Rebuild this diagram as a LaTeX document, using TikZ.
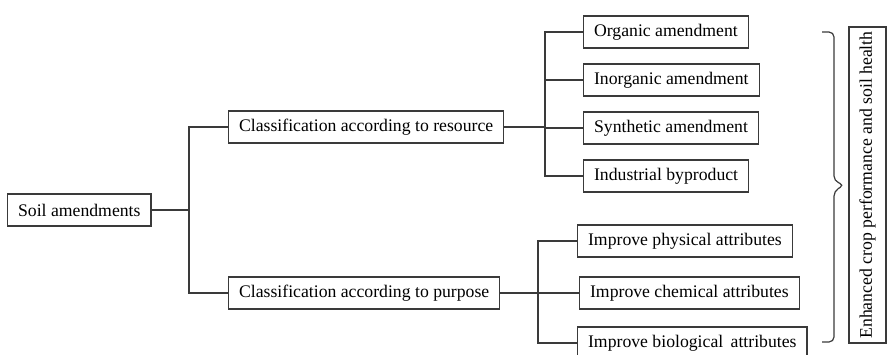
\documentclass[tikz,border=0pt]{standalone}
\usepackage{fontspec}
\setmainfont{Liberation Serif}
\usepackage{tikz}
\usetikzlibrary{positioning,calc}
\definecolor{lineGray}{HTML}{3A3A3A}
\tikzset{
  box/.style={
    rectangle, draw=lineGray, line width=1.2pt,
    inner xsep=10.5pt, inner ysep=0pt,
    minimum height=32pt, anchor=west
  },
  link/.style={draw=lineGray, line width=1.2pt},
  outbox/.style={
    box, anchor=center, rotate=90,
    minimum width=316pt, minimum height=37pt, inner xsep=2pt
  },
  bracket/.style={link, rounded corners=5pt}
}

\begin{document}
\begin{tikzpicture}[x=1pt,y=-1pt,font=\fontsize{17.7}{20}\selectfont]
  \useasboundingbox (0,0) rectangle (887,354);
  \clip (0,0) rectangle (887,354);

  % root and the two classifications
  \node[box] (soil) at (7,210) {Soil amendments};
  \node[box] (res) at (228,127) {Classification according to resource};
  \node[box] (pur) at (228,293) {Classification according to purpose};

  % by resource
  \node[box] (org)   at (583,32)  {Organic amendment};
  \node[box] (inorg) at (583,80)  {Inorganic amendment};
  \node[box] (syn)   at (583,128) {Synthetic amendment};
  \node[box] (ind)   at (583,176) {Industrial byproduct};

  % by purpose
  \node[box] (phy)  at (577,241) {Improve physical attributes};
  \node[box] (chem) at (579,293) {Improve chemical attributes};
  \node[box] (bio)  at (577,343) {Improve biological\, attributes};

  % outcome
  \node[outbox] (out) at (867.5,185) {Enhanced crop performance and soil health};

  % bus points
  \coordinate (busA) at (189,210);
  \coordinate (busR) at (545,127);
  \coordinate (busP) at (538,293);

  \draw[link] (soil.east) -- (busA);
  \draw[link] (busA) |- (res.west);
  \draw[link] (busA) |- (pur.west);

  \draw[link] (res.east) -- (busR);
  \foreach \n in {org,inorg,syn,ind}
    \draw[link] (busR) |- (\n.west);

  \draw[link] (pur.east) -- (busP);
  \foreach \n in {phy,chem,bio}
    \draw[link] (busP) |- (\n.west);

  % brace
  \coordinate (bTop) at (822,32);
  \coordinate (bBot) at (822,342);
  \coordinate (bTip) at (out.north);
  \draw[bracket] (bTop) -- (834,32) -- (834,181) -- ([xshift=-4pt]bTip)
    -- (834,191) -- (834,342) -- (bBot);
\end{tikzpicture}
\end{document}
